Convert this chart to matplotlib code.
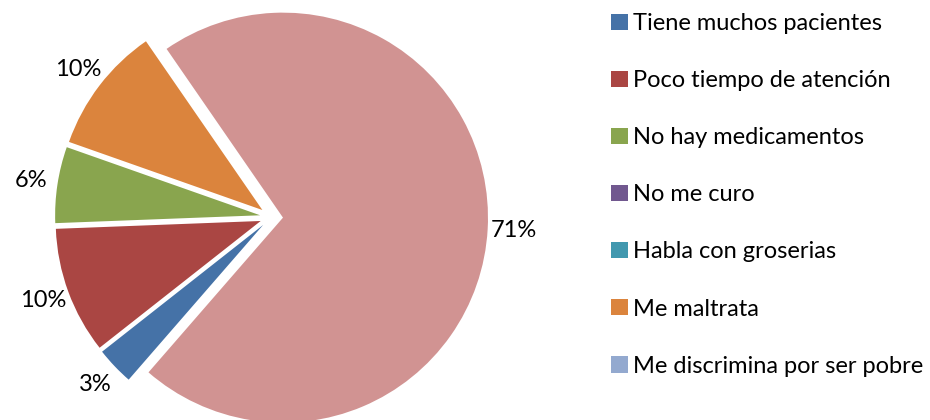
import matplotlib
matplotlib.use("Agg")
import matplotlib.pyplot as plt

plt.rcParams["font.family"] = ["Lato", "DejaVu Sans"]

# data
categories = [
    "Tiene muchos pacientes",
    "Poco tiempo de atención",
    "No hay medicamentos",
    "No me curo",
    "Habla con groserias",
    "Me maltrata",
    "Me discrimina por ser pobre",
    "",  # 8th slice has no legend entry in the original
]
percentages = [3, 10, 6, 0, 0, 10, 0, 71]
colors = ["#4572A7", "#AA4643", "#89A54E", "#71588F",
          "#4198AF", "#DB843D", "#93A9CF", "#D19392"]

W, H = 930, 420
fig = plt.figure(figsize=(W / 100, H / 100), dpi=100)
ax = fig.add_axes([0, 0, 1, 1])

def pct_label(p):
    return f"{p:.0f}%" if p > 0.5 else ""

# explode is in data units here (pixels), pctdistance is relative to radius
wedges, texts, autotexts = ax.pie(
    percentages,
    colors=colors,
    startangle=229,
    counterclock=False,
    explode=[11.5] * len(percentages),
    center=(271.5, H - 217),
    radius=205,
    autopct=pct_label,
    pctdistance=1.13,
    wedgeprops=dict(linewidth=0),
    textprops=dict(fontsize=17, color="#000000"),
)

ax.set_xlim(0, W)
ax.set_ylim(0, H)
ax.set_aspect("equal")
ax.axis("off")

leg = fig.legend(
    wedges[:7], categories[:7],
    loc="upper left",
    bbox_to_anchor=(602 / W, 1 - 3.5 / H),
    frameon=False,
    fontsize=17,
    handlelength=0.68,
    handleheight=0.68,
    handletextpad=0.25,
    labelspacing=1.53,
    borderaxespad=0,
)

fig.savefig("out.png", dpi=100)
